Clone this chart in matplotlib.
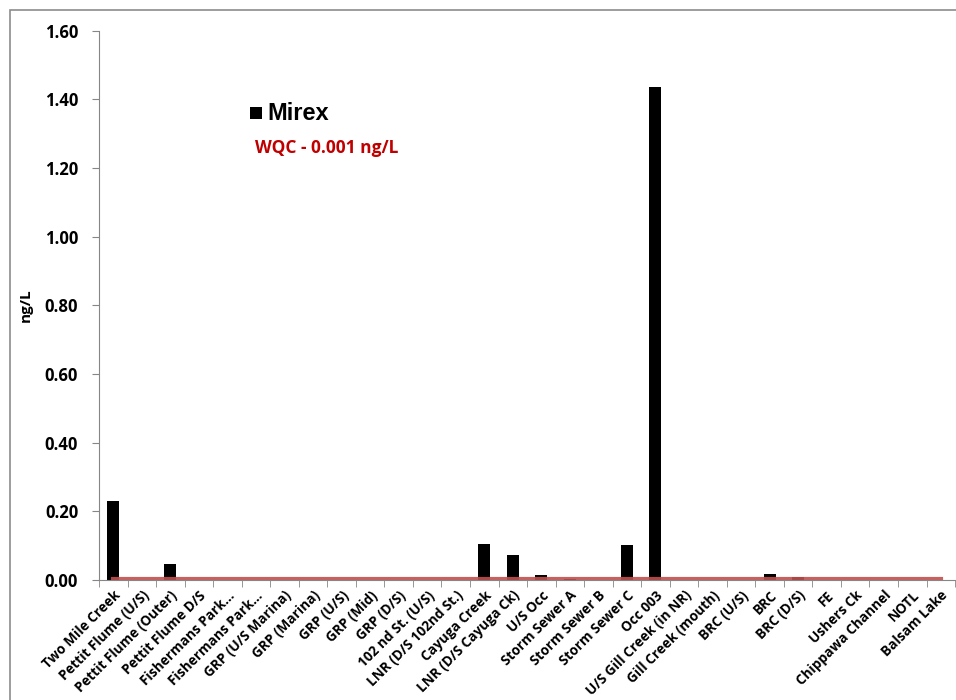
import matplotlib
matplotlib.use('Agg')
import matplotlib.pyplot as plt
from matplotlib.patches import Rectangle
import numpy as np

plt.rcParams['font.family'] = ['Open Sans', 'DejaVu Sans']

sites = ['Two Mile Creek', 'Pettit Flume (U/S)', 'Pettit Flume (Outer)', 'Pettit Flume D/S',
         'Fishermans Park...', 'Fishermans Park...', 'GRP (U/S Marina)', 'GRP (Marina)',
         'GRP (U/S)', 'GRP (Mid)', 'GRP (D/S)', '102 nd St. (U/S)', 'LNR (D/S 102nd St.)',
         'Cayuga Creek', 'LNR (D/S Cayuga Ck)', 'U/S Occ', 'Storm Sewer A', 'Storm Sewer B',
         'Storm Sewer C', 'Occ 003', 'U/S Gill Creek (in NR)', 'Gill Creek (mouth)',
         'BRC (U/S)', 'BRC', 'BRC (D/S)', 'FE', 'Ushers Ck', 'Chippawa Channel', 'NOTL',
         'Balsam Lake']
mirex = [0.23, 0, 0.048, 0, 0, 0, 0, 0, 0, 0, 0, 0, 0,
         0.105, 0.073, 0.015, 0.003, 0, 0.102, 1.435, 0, 0, 0,
         0.018, 0.008, 0, 0, 0, 0, 0]
wqc = [0.004] * len(sites)

fig = plt.figure(figsize=(9.56, 7), dpi=100)
ax = fig.add_axes([0.1036, 0.1714, 0.8954, 0.785])

# chart area border
fig.patches.append(Rectangle((10/956, -0.1), 1.2, 1 - 10/700 + 0.1, transform=fig.transFigure,
                             fill=False, edgecolor='#8c8c8c', linewidth=1.2))

x = np.arange(len(sites))
ax.bar(x, mirex, width=0.42, color='black', zorder=2)
ax.plot(x, wqc, color='#c0504d', linewidth=3, zorder=3, alpha=0.9)

ax.set_xlim(-0.5, len(sites) - 0.5)
ax.set_ylim(0, 1.6)
ax.set_yticks(np.arange(0, 1.61, 0.2))
ax.set_yticklabels(['%.2f' % v for v in np.arange(0, 1.61, 0.2)], fontsize=12, fontweight='bold')

ax.set_xticks(x)
ax.set_xticklabels(sites, rotation=45, ha='right', va='top', rotation_mode='anchor',
                   fontsize=9.8, fontweight='bold')
ax.tick_params(axis='x', length=0, pad=6)
ax.set_xticks(np.arange(-0.5, len(sites), 1), minor=True)
ax.tick_params(axis='x', which='minor', length=5, color='#868686')
ax.tick_params(axis='y', length=5, color='#868686', pad=10)

for s in ['top', 'right']:
    ax.spines[s].set_visible(False)
for s in ['left', 'bottom']:
    ax.spines[s].set_color('#868686')

ax.set_ylabel('ng/L', fontsize=11, fontweight='bold')
ax.yaxis.set_label_coords(-0.078, 0.5)

# legend
fig.patches.append(Rectangle((250/956, 1 - 119/700), 12/956, 12/700, transform=fig.transFigure,
                             facecolor='black', edgecolor='none'))
fig.text(267/956, 1 - 113/700, 'Mirex', fontsize=17, fontweight='bold', va='center', ha='left',
         family=['Liberation Sans', 'DejaVu Sans'])
fig.text(255/956, 1 - 148/700, 'WQC - 0.001 ng/L', fontsize=12.5, fontweight='bold',
         color='#c00000', va='center', ha='left')

fig.savefig('out.png', dpi=100)
